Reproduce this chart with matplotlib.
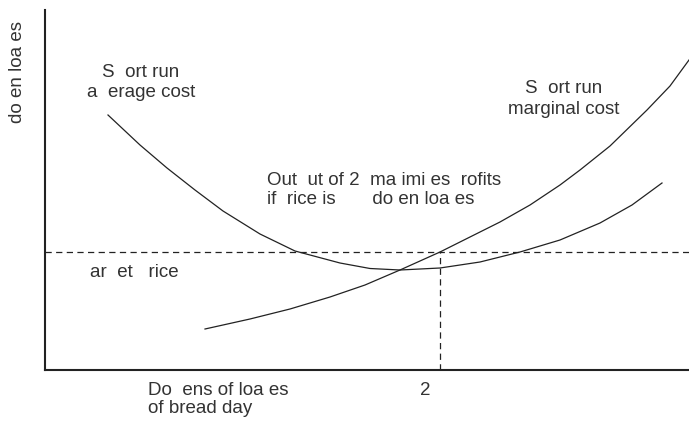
import matplotlib
matplotlib.use("Agg")
import matplotlib.pyplot as plt

plt.rcParams['font.family'] = ['Liberation Sans', 'DejaVu Sans']

# Short run marginal cost curve (quantity, cost)
mc_q = [4.0, 5.125, 6.125, 7.125, 8.0, 8.875, 9.875, 10.625, 11.375, 12.125,
        12.875, 13.375, 14.125, 15.05, 15.625, 16.1]
mc_c = [1.025, 1.275, 1.525, 1.825, 2.125, 2.5, 2.95, 3.325, 3.7, 4.125,
        4.625, 5.0, 5.6, 6.5, 7.1, 7.75]

# Short run average cost curve (quantity, cost)
ac_q = [1.575, 2.375, 3.05, 3.75, 4.45, 5.375, 6.25, 7.375, 8.125, 8.875,
        9.875, 10.875, 11.875, 12.875, 13.875, 14.675, 15.425]
ac_c = [6.375, 5.625, 5.05, 4.5, 3.975, 3.4, 2.975, 2.675, 2.5375, 2.5,
        2.55, 2.7, 2.95, 3.25, 3.675, 4.125, 4.675]

market_price = 2.95
best_output = 9.875
x_max = 16.1
y_max = 9.0

ink = '#222222'
txt = '#333333'
fs = 13.5

fig = plt.figure(figsize=(6.89, 4.23), dpi=100)
ax = fig.add_axes([45/689, 53/423, 644/689, 360/423])
ax.set_xlim(0, x_max)
ax.set_ylim(0, y_max)
for s in ['top', 'right']:
    ax.spines[s].set_visible(False)
for s in ['left', 'bottom']:
    ax.spines[s].set_linewidth(1.5)
    ax.spines[s].set_color(ink)
ax.set_xticks([])
ax.set_yticks([])

ax.plot(mc_q, mc_c, color=ink, lw=0.9, clip_on=False)
ax.plot(ac_q, ac_c, color=ink, lw=0.9, clip_on=False)

ax.plot([0, x_max], [market_price, market_price], color=ink, lw=0.9,
        dashes=(5, 3.5), clip_on=False)
ax.plot([best_output, best_output], [0, market_price], color=ink, lw=0.9,
        dashes=(5, 3.5), clip_on=False)

def t(x, y, s, **kw):
    ax.text(x, y, s, fontsize=fs, color=txt, clip_on=False, **kw)

t(2.4, 7.325, "S  ort run", ha='center', va='baseline')
t(2.4, 6.825, "a  erage cost", ha='center', va='baseline')
t(12.975, 6.925, "S  ort run", ha='center', va='baseline')
t(12.975, 6.4125, "marginal cost", ha='center', va='baseline')
t(5.55, 4.625, "Out  ut of 2  ma imi es  rofits", ha='left', va='baseline')
t(5.55, 4.15, "if  rice is       do en loa es", ha='left', va='baseline')
t(1.125, 2.325, "ar  et   rice", ha='left', va='baseline')
t(2.575, -0.625, "Do  ens of loa es", ha='left', va='baseline')
t(2.575, -1.075, "of bread day", ha='left', va='baseline')
t(9.375, -0.625, "2", ha='left', va='baseline')
t(-0.7, 7.45, "do en loa es", ha='center', va='center', rotation=90)

fig.savefig("out.png", dpi=100)
